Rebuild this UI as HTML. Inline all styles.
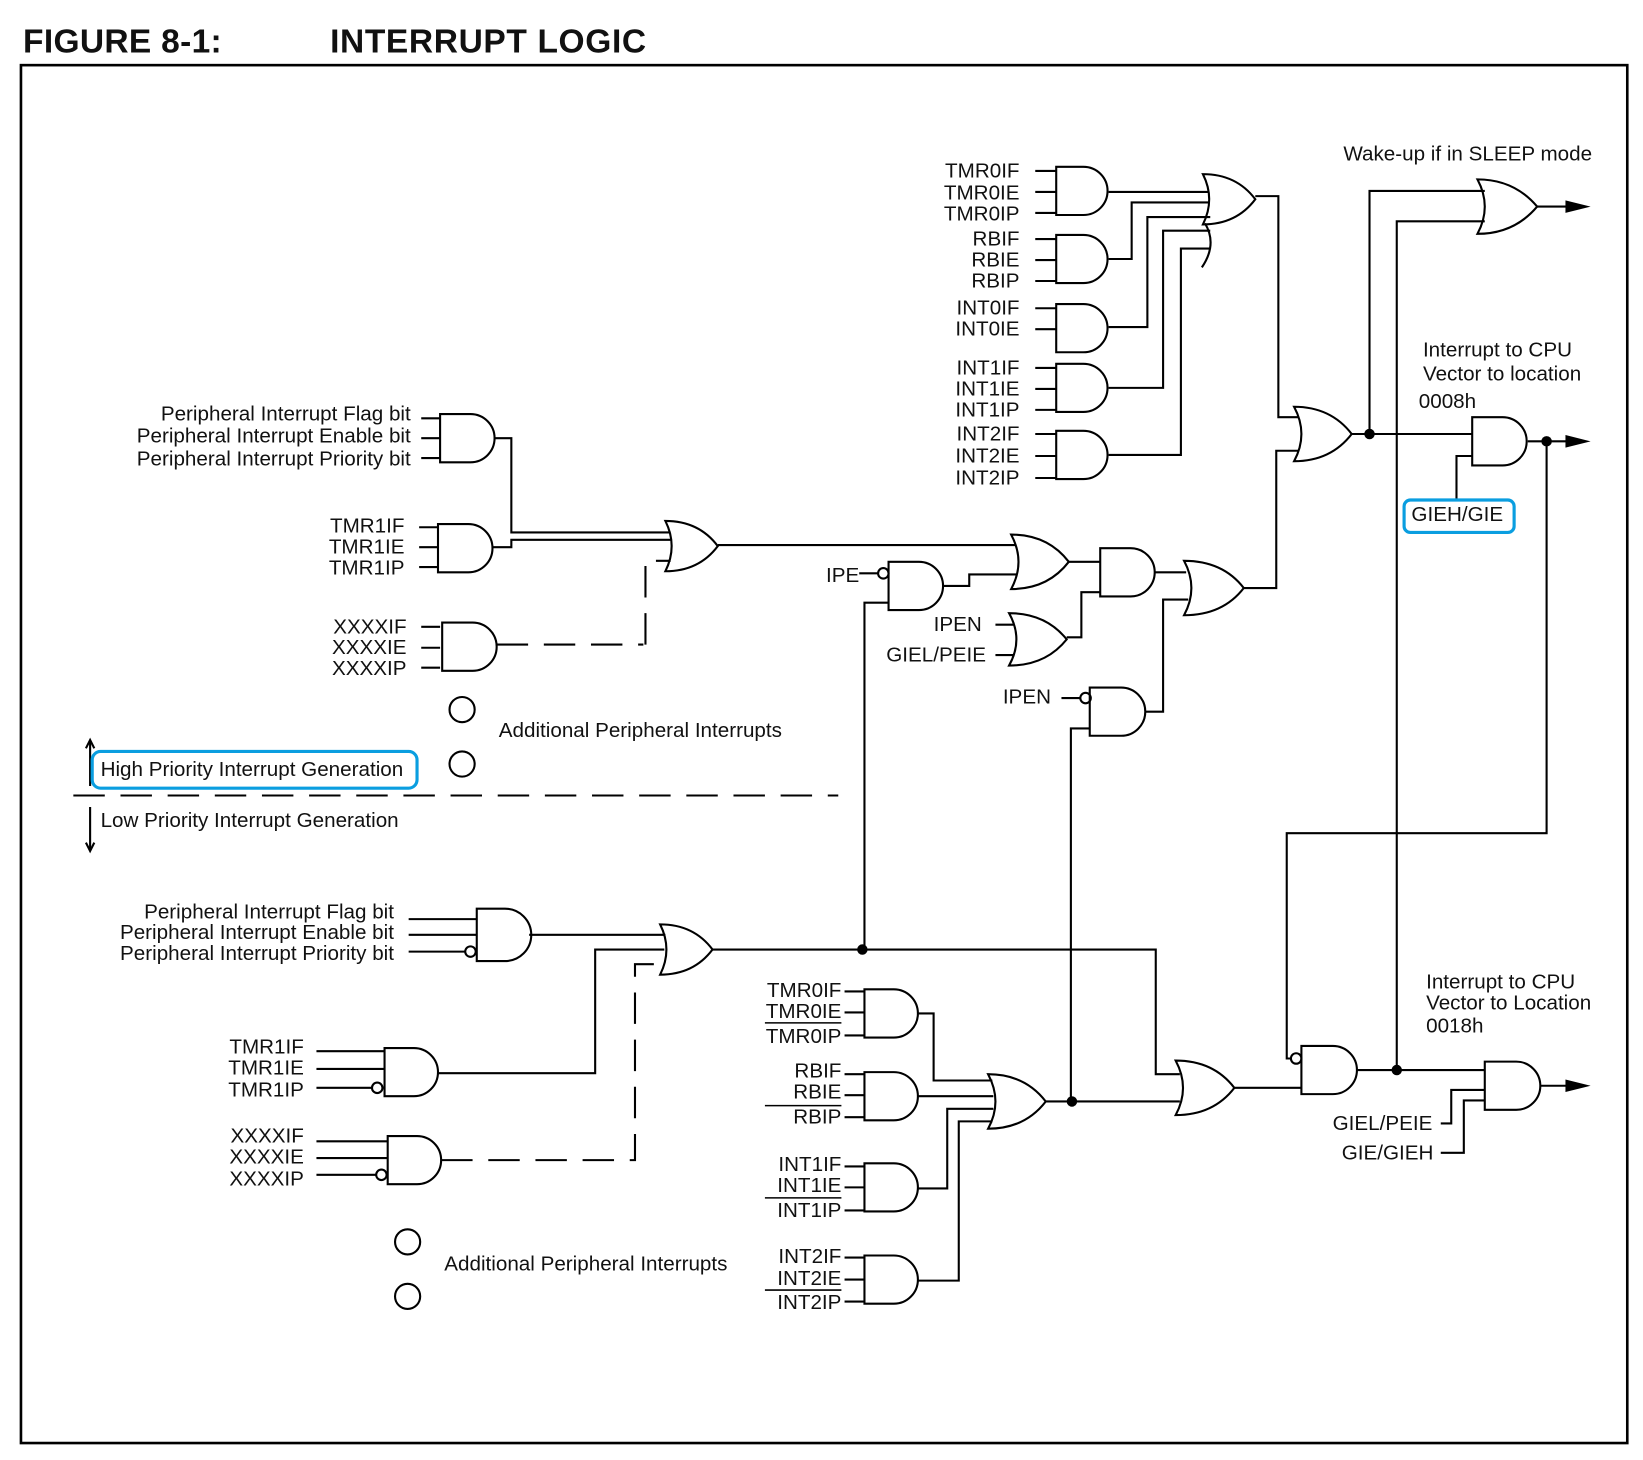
<!DOCTYPE html>
<html><head><meta charset="utf-8"><style>
html,body{margin:0;padding:0;background:#fff;width:1643px;height:1460px;overflow:hidden}
svg{display:block}
text{font-family:"Liberation Sans",sans-serif;font-size:19.7px;fill:#111;dominant-baseline:central}
.r{text-anchor:end}
</style></head><body>
<svg width="1643" height="1460" viewBox="0 0 1568 1393" xmlns="http://www.w3.org/2000/svg">
<text x="22" y="40" style="font-size:32px;font-weight:bold;letter-spacing:0.3px">FIGURE 8-1:</text>
<text x="315" y="40" style="font-size:32px;font-weight:bold;letter-spacing:0.6px">INTERRUPT LOGIC</text>
<rect x="20" y="62" width="1533" height="1315" fill="none" stroke="#000" stroke-width="2.5"/>

<g fill="none" stroke="#000" stroke-width="2">
<path d="M1008 159h26a23 23 0 0 1 0 46h-26z"/>
<path d="M1008 224h26a23 23 0 0 1 0 46h-26z"/>
<path d="M1008 290h26a23 23 0 0 1 0 46h-26z"/>
<path d="M1008 347h26a23 23 0 0 1 0 46h-26z"/>
<path d="M1008 411h26a23 23 0 0 1 0 46h-26z"/>
<path d="M1405 398h29a23 23 0 0 1 0 46h-29z"/>
<path d="M420 395h29a23 23 0 0 1 0 46h-29z"/>
<path d="M418 500h29a23 23 0 0 1 0 46h-29z"/>
<path d="M422 594h29a23 23 0 0 1 0 46h-29z"/>
<path d="M848 536h29a23 23 0 0 1 0 46h-29z"/>
<path d="M1050 523h29a23 23 0 0 1 0 46h-29z"/>
<path d="M1040 656h30a23 23 0 0 1 0 46h-30z"/>
<path d="M455 867h27a25 25 0 0 1 0 50h-27z"/>
<path d="M367 1000h28a23 23 0 0 1 0 46h-28z"/>
<path d="M370 1084h28a23 23 0 0 1 0 46h-28z"/>
<path d="M825 944h28a23 23 0 0 1 0 46h-28z"/>
<path d="M825 1023h28a23 23 0 0 1 0 46h-28z"/>
<path d="M825 1110h28a23 23 0 0 1 0 46h-28z"/>
<path d="M825 1198h28a23 23 0 0 1 0 46h-28z"/>
<path d="M1242 998h30a23 23 0 0 1 0 46h-30z"/>
<path d="M1417 1013h30a23 23 0 0 1 0 46h-30z"/>
<path d="M1148 166q32 0 50 24q-18 24 -50 24q12 -24 0 -48z"/>
<path d="M1150 213q12 20 -3 42"/>
<path d="M1235 388q35 0 55 26q-20 26 -55 26q14 -26 0 -52z"/>
<path d="M1410 171q35 0 57 26q-22 26 -57 26q14 -26 0 -52z"/>
<path d="M635 497q32 0 50 24q-18 24 -50 24q12 -24 0 -48z"/>
<path d="M965 510q35 0 55 26q-20 26 -55 26q14 -26 0 -52z"/>
<path d="M963 585q35 0 55 25q-20 25 -55 25q14 -25 0 -50z"/>
<path d="M1130 535q37 0 57 26q-20 26 -57 26q14 -26 0 -52z"/>
<path d="M630 882q32 0 50 24q-18 24 -50 24q12 -24 0 -48z"/>
<path d="M943 1025q35 0 55 26q-20 26 -55 26q14 -26 0 -52z"/>
<path d="M1122 1012q36 0 56 26q-20 26 -56 26q14 -26 0 -52z"/>
<circle cx="843" cy="547" r="5"/><circle cx="1036" cy="666" r="5"/>
<circle cx="449" cy="908" r="5"/><circle cx="360" cy="1038" r="5"/><circle cx="364" cy="1121" r="5"/>
<circle cx="1237" cy="1010" r="5"/>
<circle cx="441" cy="677" r="12"/><circle cx="441" cy="729" r="12"/>
<circle cx="389" cy="1185" r="12"/><circle cx="389" cy="1237" r="12"/>
<path d="M988 163h20M988 183h20M988 203h20M988 228h20M988 248h20M988 268h20M988 294h20M988 314h20M988 351h20M988 371h20M988 391h20M988 414h20M988 435h20M988 456h20"/>
<path d="M1058 183h95M1058 247h22v-54h73M1058 312h37v-105h60M1058 370h52v-150h45M1058 434h69v-197h28"/>
<path d="M1198 187h22v211h19M1187 561h31v-131h21"/>
<path d="M1290 414h115M1307 414v-232h110M1333 1021v-810h84M1467 197h28"/>
<path d="M1458 421h37M1476 421v374h-248v215h4"/>
<path d="M1405 435h-15v43"/>
<path d="M402 399h18M402 418h18M402 437h18M400 503h18M400 522h18M400 541h18M402 598h18M402 618h18M402 637h18"/>
<path d="M472 418h16v90h152M470 522h18v-7h152M685 520h285"/>
<path d="M474 615h140M616 615v-80h24" stroke-dasharray="30 15"/>
<path d="M820 547h18M825 906v-331h23M900 559h25v-11h45M1020 536h30M950 596h18M950 625h18M1018 608h14v-43h18M1102 546h30M1093 679h17v-107h24M1013 666h18M1022 1051v-356h18"/>
<path d="M70 759h730" stroke-dasharray="30 15"/>
<path d="M86 708v42M86 770v40"/>
<path d="M82 714l4-8 4 8M82 804l4 8 4-8"/>
<path d="M390 877h65M390 892h65M390 908h54M302 1003h65M302 1020h65M302 1038h53M302 1089h68M302 1105h68M302 1121h57"/>
<path d="M505 892h130M418 1024h150v-118h66M680 906h423v119h23"/>
<path d="M421 1107h185v-187h26" stroke-dasharray="30 15"/>
<path d="M806 946h19M806 966h19M806 988h19M806 1025h19M806 1045h19M806 1066h19M806 1113h19M806 1133h19M806 1155h19M806 1200h19M806 1221h19M806 1242h19"/>
<path d="M876 967h15v64h56M876 1046h72M876 1134h28v-76h44M876 1222h39v-152h32M998 1051h128M1178 1038h64M1295 1021h122"/>
<path d="M1375 1072h10v-32h32M1375 1100h22v-50h20M1470 1036h25"/>
<path d="M730 976h73M730 1055h73M730 1143h73M730 1231h73" stroke-width="1.5"/>
</g>
<g fill="#000">
<circle cx="1307" cy="414" r="5"/><circle cx="1476" cy="421" r="5"/>
<circle cx="823" cy="906" r="5"/><circle cx="1023" cy="1051" r="5"/><circle cx="1333" cy="1021" r="5"/>
<path d="M1494 191l24 6-24 6zM1494 415l24 6-24 6zM1494 1030l24 6-24 6z"/>
</g>
<g fill="none" stroke="#0a9ee0" stroke-width="3">
<rect x="1340" y="477" width="105" height="31" rx="6"/>
<rect x="88" y="717" width="310" height="35" rx="8"/>
</g>
<text x="1282" y="147">Wake-up if in SLEEP mode</text>
<g>
<text class="r" x="973" y="163">TMR0IF</text><text class="r" x="973" y="184">TMR0IE</text><text class="r" x="973" y="204">TMR0IP</text>
<text class="r" x="973" y="228">RBIF</text><text class="r" x="973" y="248">RBIE</text><text class="r" x="973" y="268">RBIP</text>
<text class="r" x="973" y="294">INT0IF</text><text class="r" x="973" y="314">INT0IE</text>
<text class="r" x="973" y="351">INT1IF</text><text class="r" x="973" y="371">INT1IE</text><text class="r" x="973" y="391">INT1IP</text>
<text class="r" x="973" y="414">INT2IF</text><text class="r" x="973" y="435">INT2IE</text><text class="r" x="973" y="456">INT2IP</text>
<text class="r" x="392" y="395">Peripheral Interrupt Flag bit</text>
<text class="r" x="392" y="416">Peripheral Interrupt Enable bit</text>
<text class="r" x="392" y="438">Peripheral Interrupt Priority bit</text>
<text class="r" x="386" y="502">TMR1IF</text><text class="r" x="386" y="522">TMR1IE</text><text class="r" x="386" y="542">TMR1IP</text>
<text class="r" x="388" y="598">XXXXIF</text><text class="r" x="388" y="618">XXXXIE</text><text class="r" x="388" y="638">XXXXIP</text>
<text class="r" x="937" y="596">IPEN</text><text class="r" x="941" y="625">GIEL/PEIE</text>
<text class="r" x="1003" y="665">IPEN</text><text class="r" x="820" y="549">IPE</text>
<text class="r" x="376" y="870">Peripheral Interrupt Flag bit</text>
<text class="r" x="376" y="890">Peripheral Interrupt Enable bit</text>
<text class="r" x="376" y="910">Peripheral Interrupt Priority bit</text>
<text class="r" x="290" y="999">TMR1IF</text><text class="r" x="290" y="1019">TMR1IE</text><text class="r" x="290" y="1040">TMR1IP</text>
<text class="r" x="290" y="1084">XXXXIF</text><text class="r" x="290" y="1104">XXXXIE</text><text class="r" x="290" y="1125">XXXXIP</text>
<text class="r" x="803" y="945">TMR0IF</text><text class="r" x="803" y="965">TMR0IE</text><text class="r" x="803" y="989">TMR0IP</text>
<text class="r" x="803" y="1022">RBIF</text><text class="r" x="803" y="1042">RBIE</text><text class="r" x="803" y="1066">RBIP</text>
<text class="r" x="803" y="1111">INT1IF</text><text class="r" x="803" y="1131">INT1IE</text><text class="r" x="803" y="1155">INT1IP</text>
<text class="r" x="803" y="1199">INT2IF</text><text class="r" x="803" y="1220">INT2IE</text><text class="r" x="803" y="1243">INT2IP</text>
<text class="r" x="1367" y="1072">GIEL/PEIE</text><text class="r" x="1368" y="1100">GIE/GIEH</text>
</g>
<text x="1358" y="334">Interrupt to CPU</text><text x="1358" y="357">Vector to location</text><text x="1354" y="383">0008h</text>
<text x="1347" y="491">GIEH/GIE</text>
<text x="476" y="697">Additional Peripheral Interrupts</text>
<text x="96" y="734">High Priority Interrupt Generation</text>
<text x="96" y="783">Low Priority Interrupt Generation</text>
<text x="424" y="1206">Additional Peripheral Interrupts</text>
<text x="1361" y="937">Interrupt to CPU</text><text x="1361" y="957">Vector to Location</text><text x="1361" y="979">0018h</text>
</svg>
</body></html>
